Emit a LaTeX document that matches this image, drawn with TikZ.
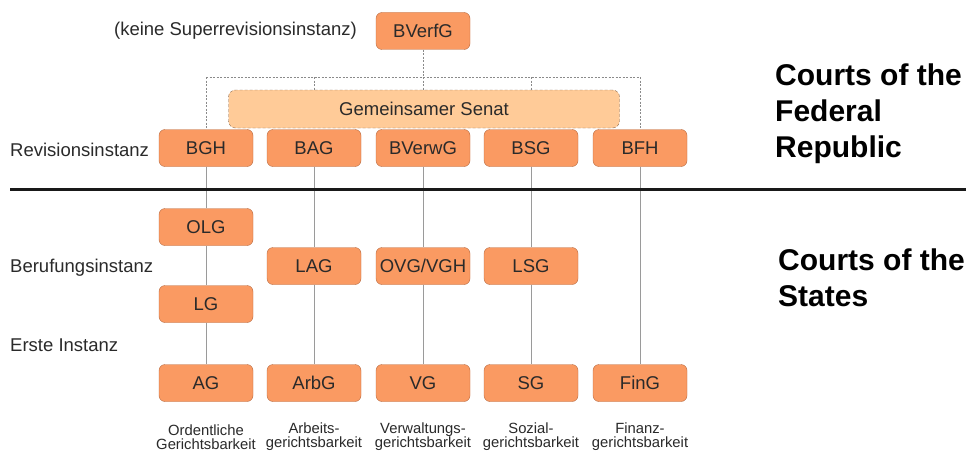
\documentclass[tikz,border=0pt]{standalone}
\usepackage{fontspec}
\setmainfont{Liberation Sans}
\begin{document}
\begin{tikzpicture}[x=1pt,y=-1pt,
  court/.style={draw=boxborder, fill=boxfill, rounded corners=6pt, minimum width=94pt, minimum height=37pt, inner sep=0pt, font=\fontsize{18.5}{20}\selectfont, text=txt},
  senat/.style={draw=senatborder, densely dashed, fill=senatfill, rounded corners=7pt, minimum width=391pt, minimum height=38pt, inner sep=0pt, font=\fontsize{18.5}{19}\selectfont, text=txt},
  lbl/.style={font=\fontsize{18.5}{19}\selectfont, text=txt, inner sep=0pt},
  col/.style={font=\fontsize{14.8}{14}\selectfont, text=txt, align=center, inner sep=0pt},
  big/.style={font=\fontsize{30}{36}\selectfont\bfseries, align=left, inner sep=0pt, anchor=west},
  dashline/.style={draw=dashgray, dashed, dash pattern=on 2pt off 1.5pt, line width=0.8pt},
  solidline/.style={draw=linegray, line width=1pt}
]
\definecolor{boxfill}{HTML}{FA9A62}
\definecolor{boxborder}{HTML}{B86A40}
\definecolor{senatfill}{HTML}{FFCB98}
\definecolor{senatborder}{HTML}{8A6A50}
\definecolor{txt}{HTML}{2A2A2A}
\definecolor{dashgray}{HTML}{8A8A8A}
\definecolor{linegray}{HTML}{9A9A9A}
\useasboundingbox (0,0) rectangle (966,452);
\fill[white] (0,0) rectangle (966,452);

\coordinate (hl) at (206,77);
\coordinate (hr) at (640,77);

\node[senat] (GS) at (424,109) {Gemeinsamer Senat};

\node[court] (BVerfG) at (423,31) {BVerfG};
\node[court] (BGH) at (206,148) {BGH};
\node[court] (BAG) at (314,148) {BAG};
\node[court] (BVerwG) at (423,148) {BVerwG};
\node[court] (BSG) at (531,148) {BSG};
\node[court] (BFH) at (640,148) {BFH};

\node[court] (OLG) at (206,227) {OLG};
\node[court] (LG) at (206,304) {LG};
\node[court] (AG) at (206,383) {AG};
\node[court] (LAG) at (314,266) {LAG};
\node[court] (OVG) at (423,266) {OVG/VGH};
\node[court] (LSG) at (531,266) {LSG};
\node[court] (ArbG) at (314,383) {ArbG};
\node[court] (VG) at (423,383) {VG};
\node[court] (SG) at (531,383) {SG};
\node[court] (FinG) at (640,383) {FinG};

\draw[dashline] (BVerfG.south) -- (BVerfG.south |- hl);
\draw[dashline] (hl) -- (hr);
\draw[dashline] (hl) -- (BGH.north);
\draw[dashline] (hr) -- (BFH.north);
\draw[dashline] (BAG.north |- hl) -- (BAG.north |- GS.north);
\draw[dashline] (BVerwG.north |- hl) -- (BVerwG.north |- GS.north);
\draw[dashline] (BSG.north |- hl) -- (BSG.north |- GS.north);

\draw[solidline] (BGH) -- (OLG) (OLG) -- (LG) (LG) -- (AG);
\draw[solidline] (BAG) -- (LAG) (LAG) -- (ArbG);
\draw[solidline] (BVerwG) -- (OVG) (OVG) -- (VG);
\draw[solidline] (BSG) -- (LSG) (LSG) -- (SG);
\draw[solidline] (BFH) -- (FinG);

\coordinate (sepL) at (10,189);
\coordinate (sepR) at (966,189);
\draw[line width=3pt, black!90] (sepL) -- (sepR);

\node[lbl, anchor=east] (keine) at (357,31) {(keine Superrevisionsinstanz)};
\node[lbl, anchor=west] (rev) at (10,150) {Revisionsinstanz};
\node[lbl, anchor=west] (ber) at (10,268) {Berufungsinstanz};
\node[lbl, anchor=west] (erst) at (10,345) {Erste Instanz};

\node[col] (c1) at (206,437) {Ordentliche\\Gerichtsbarkeit};
\node[col] (c2) at (314,437) {Arbeits-\\gerichtsbarkeit};
\node[col] (c3) at (423,437) {Verwaltungs-\\gerichtsbarkeit};
\node[col] (c4) at (531,437) {Sozial-\\gerichtsbarkeit};
\node[col] (c5) at (640,437) {Finanz-\\gerichtsbarkeit};

\node[big] (fed) at (775,114) {Courts of the\\Federal\\Republic};
\node[big] (states) at (778,278) {Courts of the\\States};
\end{tikzpicture}
\end{document}
